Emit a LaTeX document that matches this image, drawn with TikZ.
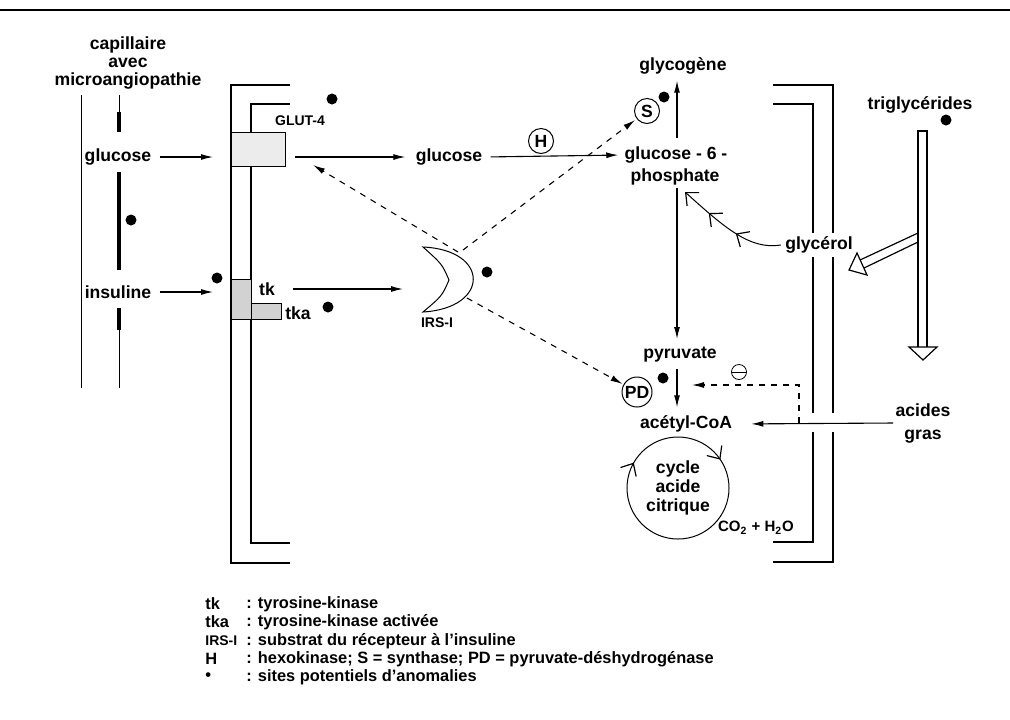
\documentclass[tikz,border=0pt]{standalone}
\usepackage{fontspec}
\setmainfont{Liberation Sans}
\usetikzlibrary{arrows.meta,decorations.markings,calc}
\tikzset{barb/.tip={Straight Barb[length=5pt,width=9pt,line width=0.6pt]}}
\begin{document}
\begin{tikzpicture}[x=0.5pt,y=-0.5pt,
  font=\fontsize{8.8}{10}\selectfont\bfseries,
  lbl/.style={inner sep=1pt},
  ln/.style={line width=0.6pt},
  arr/.style={line width=0.55pt,-{Latex[length=6pt,width=3pt]}},
  darr/.style={arr,dash pattern=on 3pt off 3pt},
  dot/.style={circle,fill=black,inner sep=0pt,minimum size=5.5pt},
  enz/.style={circle,draw,line width=0.5pt,inner sep=0pt},
  small/.style={font=\fontsize{7}{8}\selectfont\bfseries},
  leg/.style={anchor=west,inner sep=0pt,font=\fontsize{8.2}{10}\selectfont\bfseries}]
\useasboundingbox (0,0) rectangle (1010,719);
% top rule
\draw[line width=0.8pt] (0,10) -- (1010,10);
% capillary
\node[lbl,align=center,font=\fontsize{8.8}{9}\selectfont\bfseries] (cap) at (128,63) {capillaire\\avec\\microangiopathie};
\draw[line width=0.5pt] (81,95) -- (81,388);
\draw[line width=0.4pt] (119,95) -- (119,112);
\draw[line width=1.6pt] (119,112) -- (119,132);
\draw[line width=1.6pt] (119,172) -- (119,270);
\draw[line width=1.6pt] (119,308) -- (119,330);
\draw[line width=0.4pt] (119,330) -- (119,388);
\node[lbl] (glucL) at (118,157) {glucose};
\node[lbl] (insL) at (118,292) {insuline};
% left membrane
\draw[ln] (290,85) -| (231,563) -- (290,563);
\draw[ln] (290,104) -| (251,543) -- (290,543);
\node[draw,fill=gray!15,anchor=north west,minimum width=27pt,minimum height=17pt,inner sep=0pt,line width=0.5pt] (glut) at (231,132) {};
\node[draw,fill=gray!35,anchor=north west,minimum width=10pt,minimum height=20pt,inner sep=0pt,line width=0.5pt] (tkbox) at (231,279) {};
\node[draw,fill=gray!35,anchor=north west,minimum width=15pt,minimum height=8pt,inner sep=0pt,line width=0.5pt] (tkabox) at (251,303) {};
\node[lbl,small] (glutL) at (300,121) {GLUT-4};
\node[lbl] (tk) at (267,289) {tk};
\node[lbl] (tka) at (298,313) {tka};
% arrows into cell
\draw[arr,shorten <=3pt,shorten >=9pt] (glucL.east) -- (glucL.east -| glut.west);
\draw[arr,shorten <=3pt,shorten >=9pt] (insL.east) -- (insL.east -| tkbox.west);
% glucose inside
\node[lbl] (glucC) at (449,157) {glucose};
\node[enz,minimum size=12.5pt] (H) at (541,141) {H};
\node[lbl] (g6pa) at (676,155) {glucose - 6 -};
\node[lbl] (g6pb) at (675,177) {phosphate};
\node[lbl] (glyco) at (683,66) {glycogène};
\node[enz,minimum size=12.5pt] (S) at (647,111) {S};
\node[lbl] (pyr) at (680,355) {pyruvate};
\node[enz,minimum size=15pt] (PD) at (637,392) {PD};
\node[lbl] (acetyl) at (686,424) {acétyl-CoA};
\draw[arr,shorten <=4.5pt,shorten >=4pt] (glucC -| glut.east) -- (glucC.west);
\draw[arr,shorten <=3pt,shorten >=2pt] (glucC.east) -- (g6pa.west);
\coordinate (vx) at (677,0);
\draw[arr,shorten <=3pt,shorten >=2pt] (vx |- g6pa.north) -- (vx |- glyco.south);
\draw[arr,shorten <=0pt,shorten >=3pt] (vx |- g6pb.south) -- (vx |- pyr.north);
\draw[arr,shorten <=2pt,shorten >=3pt] (vx |- pyr.south) -- (vx |- acetyl.north);
% IRS-I
\draw[line width=0.5pt] (423,247) .. controls (490,250) and (490,308) .. (423,312)
   .. controls (442,296) .. (449,280) .. controls (442,264) .. (423,247) -- cycle;
\node[lbl,small] (irsL) at (437,323) {IRS-I};
\coordinate (irsIn) at (403,289);
\coordinate (irs1) at (458,252);
\coordinate (irs2) at (463,250);
\coordinate (irs3) at (467,298);
\coordinate (glutArr) at (313,165);
\draw[arr,shorten <=8pt] (tk.east) -- (irsIn);
\draw[darr] (irs1) -- (glutArr);
\draw[darr,shorten >=1pt] (irs2) -- (S);
\draw[darr,shorten >=0.5pt] (irs3) -- (PD);
% citric acid cycle
\node[lbl,align=center,font=\fontsize{8.8}{9.5}\selectfont\bfseries] (tca) at (678,488) {cycle\\acide\\citrique};
\begin{scope}[shift={(678,488)},x=0.5pt,y=0.5pt]
\draw[line width=0.5pt,decoration={markings,
   mark=at position 0.156 with {\arrow{barb}},
   mark=at position 0.833 with {\arrow{barb}}},postaction={decorate}]
   (0,51) arc[start angle=90,end angle=-270,radius=51];
\end{scope}
\node[lbl,small,font=\fontsize{7.5}{8}\selectfont\bfseries] (co2) at (756,528) {CO\textsubscript{2} + H\textsubscript{2}O};
% right membrane
\draw[ln] (773,85) -- (833,85) -- (833,413);
\draw[ln] (833,432) -- (833,562) -- (773,562);
\draw[ln] (773,104) -- (813,104) -- (813,413);
\draw[ln] (813,432) -- (813,542) -- (773,542);
% glycerol
\node[lbl,fill=white,inner sep=2pt] (glyc) at (819,245) {glycérol};
\coordinate (g6pIn) at (685,192);
\draw[line width=0.5pt,-{barb},
   decoration={markings,
   mark=at position 0.42 with {\arrow{barb}},
   mark=at position 0.72 with {\arrow{barb}}},postaction={decorate}]
   (glyc.west) .. controls (750,250) and (725,228) .. (g6pIn);
% triglycerides
\node[lbl] (trig) at (920,105) {triglycérides};
\draw[ln] (918,347) -- (918,131) -- (927,131) -- (927,347);
\draw[ln] (909,347) -- (937,347) -- (923,360) -- cycle;
\draw[ln] (918,233) -- (860,260);
\draw[ln] (918,242) -- (864,268);
\draw[ln] (867,275) -- (857,253) -- (849,270) -- cycle;
% acides gras
\node[lbl,align=center,font=\fontsize{8.8}{11.5}\selectfont\bfseries] (ag) at (923,423) {acides\\gras};
\draw[arr,shorten >=8.5pt] (ag.west) -- (acetyl.east);
\coordinate (inh) at (799,423);
\coordinate (inhEnd) at (692,385);
\draw[darr] (inh) -- (799,385) -- (inhEnd);
\node[circle,draw,minimum size=7.5pt,inner sep=0pt,line width=0.4pt] (minus) at (739,372) {};
\draw[line width=0.4pt] (minus.west) -- (minus.east);
% dots
\node[dot] (d1) at (332,99) {};
\node[dot] (d2) at (131,220) {};
\node[dot] (d3) at (217,278) {};
\node[dot] (d4) at (328,307) {};
\node[dot] (d5) at (487,272) {};
\node[dot] (d6) at (664,97) {};
\node[dot] (d7) at (663,378) {};
\node[dot] (d8) at (946,120) {};
% legend
\node[leg] (l1a) at (205,604) {tk};
\node[leg] (l1b) at (246,604) {: tyrosine-kinase};
\node[leg] (l2a) at (205,622) {tka};
\node[leg] (l2b) at (246,622) {: tyrosine-kinase activée};
\node[leg,font=\fontsize{7}{8}\selectfont\bfseries] (l3a) at (205,641) {IRS-I};
\node[leg] (l3b) at (246,641) {: substrat du récepteur à l’insuline};
\node[leg] (l4a) at (205,659) {H};
\node[leg] (l4b) at (246,659) {: hexokinase; S = synthase; PD = pyruvate-déshydrogénase};
\node[leg] (l5a) at (205,677) {•};
\node[leg] (l5b) at (246,677) {: sites potentiels d’anomalies};
\end{tikzpicture}
\end{document}
